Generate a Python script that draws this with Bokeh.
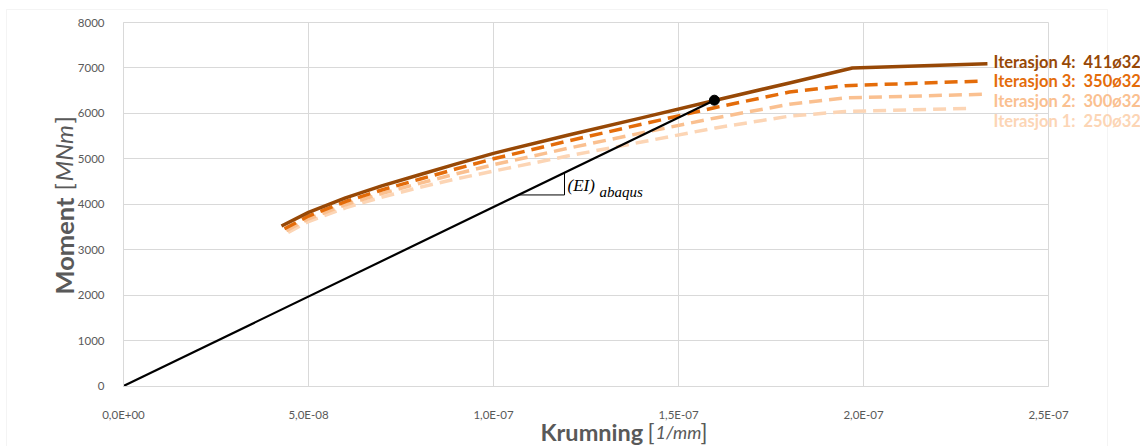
import math
from bokeh.plotting import figure
from bokeh.models import Range1d, FixedTicker, Label, BoxAnnotation, CustomJSTickFormatter
from bokeh.embed import file_html
from bokeh.resources import INLINE

# ---------------- data ----------------
x_ticks = [0.0, 5e-8, 1e-7, 1.5e-7, 2e-7, 2.5e-7]
x_tick_labels = ["0,0E+00", "5,0E-08", "1,0E-07", "1,5E-07", "2,0E-07", "2,5E-07"]
y_ticks = [0, 1000, 2000, 3000, 4000, 5000, 6000, 7000, 8000]

x_iter4 = [4.27e-8, 5.0e-8, 6.0e-8, 7.0e-8, 8.0e-8, 9.0e-8, 1.0e-7, 1.2e-7, 1.4e-7, 1.6e-7, 1.8e-7, 1.97e-7, 2.335e-7]
m_iter4 = [3520, 3820, 4140, 4410, 4650, 4890, 5120, 5520, 5900, 6290, 6670, 7000, 7090]

x_iter3 = [4.35e-8, 5.0e-8, 6.0e-8, 7.0e-8, 8.0e-8, 9.0e-8, 1.0e-7, 1.2e-7, 1.4e-7, 1.6e-7, 1.8e-7, 1.95e-7, 2.315e-7]
m_iter3 = [3460, 3740, 4060, 4320, 4550, 4780, 5000, 5390, 5760, 6130, 6470, 6610, 6710]

x_iter2 = [4.4e-8, 5.0e-8, 6.0e-8, 7.0e-8, 8.0e-8, 9.0e-8, 1.0e-7, 1.2e-7, 1.4e-7, 1.6e-7, 1.8e-7, 1.95e-7, 2.32e-7]
m_iter2 = [3420, 3680, 3990, 4240, 4460, 4670, 4870, 5230, 5570, 5900, 6200, 6340, 6420]

x_iter1 = [4.45e-8, 5.0e-8, 6.0e-8, 7.0e-8, 8.0e-8, 9.0e-8, 1.0e-7, 1.2e-7, 1.4e-7, 1.6e-7, 1.8e-7, 1.95e-7, 2.28e-7]
m_iter1 = [3380, 3620, 3920, 4160, 4370, 4560, 4730, 5060, 5370, 5680, 5940, 6040, 6110]

ei_x = [0.0, 1.597e-7]
ei_m = [0, 6290]

series_names = ["Iterasjon 1:\u00a0 250ø32", "Iterasjon 2:\u00a0 300ø32",
                "Iterasjon 3:\u00a0 350ø32", "Iterasjon 4:\u00a0 411ø32"]
series_colors = ["#FCD5B5", "#FAC090", "#E46C0A", "#974806"]

X_MIN, X_MAX = 0.0, 2.5e-7
Y_MIN, Y_MAX = 0, 8000

# ---------------- layout helpers: canvas pixel -> data ----------------
PLOT_L, PLOT_R, PLOT_T, PLOT_B = 123.0, 1048.0, 22.0, 385.5
W, H = 1140, 446

def px2x(px):
    return X_MIN + (px - PLOT_L) / (PLOT_R - PLOT_L) * (X_MAX - X_MIN)

def py2y(py):
    return Y_MIN + (PLOT_B - py) / (PLOT_B - PLOT_T) * (Y_MAX - Y_MIN)

GRID = "#D9D9D9"
TXT = "#595959"

p = figure(width=W, height=H, output_backend="svg", toolbar_location=None,
           x_range=Range1d(px2x(0), px2x(W)), y_range=Range1d(py2y(H), py2y(0)),
           min_border_left=0, min_border_right=0, min_border_top=0, min_border_bottom=0)
p.outline_line_color = None
p.background_fill_color = "white"
p.border_fill_color = "white"

p.xaxis.ticker = FixedTicker(ticks=x_ticks)
p.xaxis.formatter = CustomJSTickFormatter(args=dict(labels=x_tick_labels),
                                          code="return labels[Math.round(tick/5e-8)];")
p.yaxis.ticker = FixedTicker(ticks=y_ticks)
p.xaxis.fixed_location = Y_MIN
p.yaxis.fixed_location = X_MIN
p.xaxis.bounds = (X_MIN, X_MAX)
p.yaxis.bounds = (Y_MIN, Y_MAX)
p.xgrid.ticker = FixedTicker(ticks=x_ticks)
p.ygrid.ticker = FixedTicker(ticks=y_ticks)
p.xgrid.bounds = (X_MIN, X_MAX)
p.ygrid.bounds = (Y_MIN, Y_MAX)
p.xgrid.cross_bounds = (Y_MIN, Y_MAX)
p.ygrid.cross_bounds = (X_MIN, X_MAX)
for g in (p.xgrid, p.ygrid):
    g.grid_line_color = GRID
    g.grid_line_width = 1
for ax in (p.xaxis, p.yaxis):
    ax.axis_line_color = GRID
    ax.major_tick_line_color = None
    ax.minor_tick_line_color = None
    ax.major_label_text_font = "Lato"
    ax.major_label_text_font_size = "11.5px"
    ax.major_label_text_color = TXT
p.xaxis.major_label_standoff = 16
p.yaxis.major_label_standoff = 13

# chart area border
p.add_layout(BoxAnnotation(left=px2x(6), right=px2x(1107), top=py2y(9), bottom=py2y(470),
                           fill_color=None, fill_alpha=0, line_color=GRID, line_width=1,
                           level="underlay"))

# series
xs = [x_iter1, x_iter2, x_iter3, x_iter4]
ms = [m_iter1, m_iter2, m_iter3, m_iter4]
for i in range(4):
    dash = "solid" if i == 3 else "13 7"
    p.line(xs[i], ms[i], line_color=series_colors[i], line_width=3.5, line_dash=dash,
           line_join="round")

# EI line & point
p.line(ei_x, ei_m, line_color="black", line_width=2.2)
p.scatter([ei_x[-1]], [ei_m[-1]], size=10, color="black")

# slope triangle
slope = ei_m[1] / ei_x[1]
tx1, tx2 = px2x(518), px2x(564)
p.line([tx1, tx2, tx2], [slope * tx1, slope * tx1, slope * tx2], line_color="black", line_width=1)

def dlabel(txt, px, py, **kw):
    p.add_layout(Label(x=px2x(px), y=py2y(py), text=txt, **kw))

dlabel("(EI)", 567, 185, text_font="Liberation Serif", text_font_style="italic",
       text_font_size="17px", text_color="black", text_baseline="middle", text_align="left")
dlabel("abaqus", 599, 191, text_font="Liberation Serif", text_font_style="italic",
       text_font_size="15px", text_color="black", text_baseline="middle", text_align="left")

# series labels
label_rows = [120, 100, 80, 61.7]
for i in range(4):
    dlabel(series_names[i], 993, label_rows[i], text_font="Lato", text_font_style="bold",
           text_font_size="16.5px", text_color=series_colors[i],
           text_baseline="middle", text_align="left")

# axis titles
for txt, px, style, fs in [("Krumning", 540, "bold", "23.5px"), ("[", 647, "normal", "23px"),
                           ("1/mm", 655, "italic", "18px"), ("]", 700, "normal", "23px")]:
    dlabel(txt, px, 431.5, text_font="Lato", text_font_style=style, text_font_size=fs,
           text_color=TXT, text_baseline="middle", text_align="left")
for txt, py, style, fs in [("Moment", 294, "bold", "25.5px"), ("[", 190, "normal", "24px"),
                           ("MNm", 181, "italic", "24px"), ("]", 123, "normal", "24px")]:
    dlabel(txt, 63, py, text_font="Lato", text_font_style=style, text_font_size=fs,
           text_color=TXT, text_baseline="middle", text_align="left", angle=math.pi / 2)

open("out.html", "w").write(file_html(p, INLINE))
